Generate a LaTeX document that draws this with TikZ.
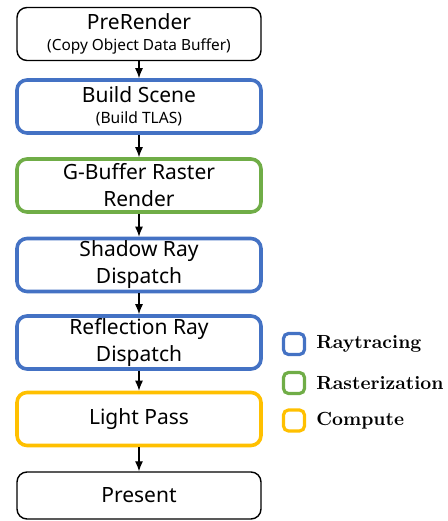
\documentclass[tikz,border=0pt]{standalone}
\usepackage{fontspec}
\setsansfont{Noto Sans}
\usetikzlibrary{arrows.meta}

\definecolor{rtblue}{RGB}{68,114,196}
\definecolor{rsgreen}{RGB}{112,173,71}
\definecolor{cpyellow}{RGB}{255,192,0}

\begin{document}
\begin{tikzpicture}[x=0.5pt,y=-0.5pt,
    stage/.style={draw=black, line width=0.7pt, rounded corners=5pt,
        minimum width=122pt, minimum height=26.5pt, inner sep=0pt,
        align=center, font=\sffamily\fontsize{10.5}{13.5}\selectfont},
    colstage/.style={stage, line width=1.8pt},
    keybox/.style={draw, line width=1.6pt, rounded corners=2.5pt,
        minimum size=10.5pt, inner sep=0pt},
    keytext/.style={anchor=west, inner sep=0pt,
        font=\bfseries\fontsize{9.5}{11}\selectfont},
    flow/.style={-{Latex[length=5pt,width=4pt]}, line width=0.6pt}]
    \useasboundingbox (0,0) rectangle (447,521);

    % Render stages, top to bottom
    \node[stage] (prerender) at (139,34)
        {PreRender\\[-3pt]{\fontsize{7.7}{9}\selectfont (Copy Object Data Buffer)}};
    \node[colstage, draw=rtblue] (scene) at (139,106.5)
        {Build Scene\\[-3pt]{\fontsize{7.8}{9}\selectfont (Build TLAS)}};
    \node[colstage, draw=rsgreen] (gbuffer) at (139,185.5) {G-Buffer Raster\\Render};
    \node[colstage, draw=rtblue] (shadow) at (139,265) {Shadow Ray\\Dispatch};
    \node[colstage, draw=rtblue] (reflect) at (139,342.5) {Reflection Ray\\Dispatch};
    \node[colstage, draw=cpyellow] (light) at (139,419) {Light Pass};
    \node[stage, minimum height=23.5pt] (present) at (139,495.5) {Present};

    % Arrows between stages
    \foreach \a/\b in {prerender/scene, scene/gbuffer, gbuffer/shadow,
                       shadow/reflect, reflect/light, light/present}{
        \draw[flow] (\a.south) -- (\b.north);
    }

    % Legend
    \node[keybox, draw=rtblue] (keyrt) at (294,344) {};
    \node[keybox, draw=rsgreen] (keyrs) at (294,383) {};
    \node[keybox, draw=cpyellow] (keycp) at (294,420.5) {};
    \node[keytext] (labrt) at (316,344) {Raytracing};
    \node[keytext] (labrs) at (316,383) {Rasterization};
    \node[keytext] (labcp) at (316,420.5) {Compute};
\end{tikzpicture}
\end{document}
